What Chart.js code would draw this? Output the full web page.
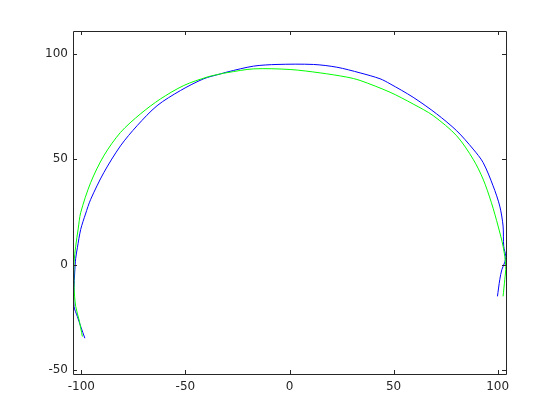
<!DOCTYPE html>
<html>
<head>
<meta charset="utf-8">
<script src="https://cdn.jsdelivr.net/npm/chart.js@4/dist/chart.umd.min.js"></script>
<style>
  html, body { margin: 0; padding: 0; background: #fff; }
  #wrap { width: 560px; height: 420px; }
</style>
</head>
<body>
<div id="wrap"><canvas id="c" width="560" height="420"></canvas></div>
<script>
// values
const blueX = [-98.3, -100.3, -101.9, -103.5, -103.5, -103.2, -102.7, -101.9, -100.3, -98.0, -95.5, -89.2, -81.2, -73.2, -63.6, -52.4, -41.2, -33.2, -30.0, -17.3, -6.0, 11.5, 22.7, 33.9, 43.5, 48.3, 59.4, 70.7, 80.3, 88.2, 93.0, 97.8, 101.0, 102.6, 102.9, 103.9, 103.3, 102.0, 101.0, 99.9];
const blueY = [-35.0, -29.4, -24.7, -19.9, -11.0, -4.0, 3.0, 8.0, 16.7, 24.0, 31.0, 43.7, 56.4, 66.0, 75.5, 82.7, 88.3, 90.6, 91.5, 94.3, 95.1, 95.1, 93.8, 91.1, 88.3, 85.9, 79.5, 71.6, 63.6, 54.9, 48.5, 37.4, 27.8, 18.3, 8.7, 4.0, 0.8, -2.4, -7.2, -15.1];

const greenX = [-99.5, -101.1, -102.7, -103.5, -103.5, -102.7, -101.5, -100.3, -95.5, -89.2, -81.2, -71.6, -62.0, -50.8, -39.6, -33.2, -30.0, -17.3, 0.3, 14.7, 27.5, 33.9, 48.3, 59.4, 69.0, 80.3, 88.2, 93.0, 97.0, 100.2, 102.6, 103.9, 103.4, 102.6];
const greenY = [-34.2, -26.2, -19.9, -10.7, 0.8, 8.7, 17.0, 24.7, 39.0, 51.7, 62.8, 71.6, 78.7, 85.1, 89.1, 90.6, 91.2, 93.0, 92.7, 91.1, 89.1, 87.5, 81.9, 76.3, 70.8, 61.2, 50.1, 40.6, 29.4, 18.3, 8.7, -0.8, -7.2, -15.1];

const xTicks = [-100, -50, 0, 50, 100];
const yTicks = [-50, 0, 50, 100];

function toPoints(xs, ys) {
  return xs.map((x, i) => ({ x: x, y: ys[i] }));
}

// box around the axes with inward tick marks, like octave
const frame = {
  id: 'frame',
  afterDraw(chart) {
    const ctx = chart.ctx;
    const a = chart.chartArea;
    const sx = chart.scales.x, sy = chart.scales.y;
    ctx.save();
    ctx.strokeStyle = '#262626';
    ctx.lineWidth = 1;
    ctx.beginPath();
    ctx.rect(Math.round(a.left) + 0.5, Math.round(a.top) + 0.5,
             Math.round(a.right - a.left), Math.round(a.bottom - a.top));
    xTicks.forEach(v => {
      const px = Math.round(sx.getPixelForValue(v)) + 0.5;
      ctx.moveTo(px, a.bottom); ctx.lineTo(px, a.bottom - 4);
      ctx.moveTo(px, a.top); ctx.lineTo(px, a.top + 4);
    });
    yTicks.forEach(v => {
      const py = Math.round(sy.getPixelForValue(v)) + 0.5;
      ctx.moveTo(a.left, py); ctx.lineTo(a.left + 4, py);
      ctx.moveTo(a.right, py); ctx.lineTo(a.right - 4, py);
    });
    ctx.stroke();
    ctx.restore();
  }
};

new Chart(document.getElementById('c'), {
  type: 'scatter',
  data: {
    datasets: [
      { data: toPoints(greenX, greenY), borderColor: '#00ff00', borderWidth: 1, showLine: true, tension: 0.3, pointRadius: 0, order: 0 },
      { data: toPoints(blueX, blueY), borderColor: '#0000ff', borderWidth: 1, showLine: true, tension: 0.3, pointRadius: 0, order: 1 }
    ]
  },
  options: {
    responsive: false,
    animation: false,
    layout: { padding: { left: 0, right: 54, top: 31, bottom: 0 } },
    plugins: { legend: { display: false }, tooltip: { enabled: false } },
    scales: {
      x: {
        type: 'linear', min: -104, max: 104,
        afterBuildTicks: s => { s.ticks = xTicks.map(v => ({ value: v })); },
        afterFit: s => { s.height = 46; },
        grid: { display: false, drawTicks: false },
        border: { display: false },
        ticks: { color: '#262626', font: { family: 'DejaVu Sans', size: 12 }, padding: 6, maxRotation: 0 }
      },
      y: {
        type: 'linear', min: -52, max: 111,
        afterBuildTicks: s => { s.ticks = yTicks.map(v => ({ value: v })); },
        afterFit: s => { s.width = 73; },
        grid: { display: false, drawTicks: false },
        border: { display: false },
        ticks: { color: '#262626', font: { family: 'DejaVu Sans', size: 12 }, padding: 5 }
      }
    }
  },
  plugins: [frame]
});
</script>
</body>
</html>
